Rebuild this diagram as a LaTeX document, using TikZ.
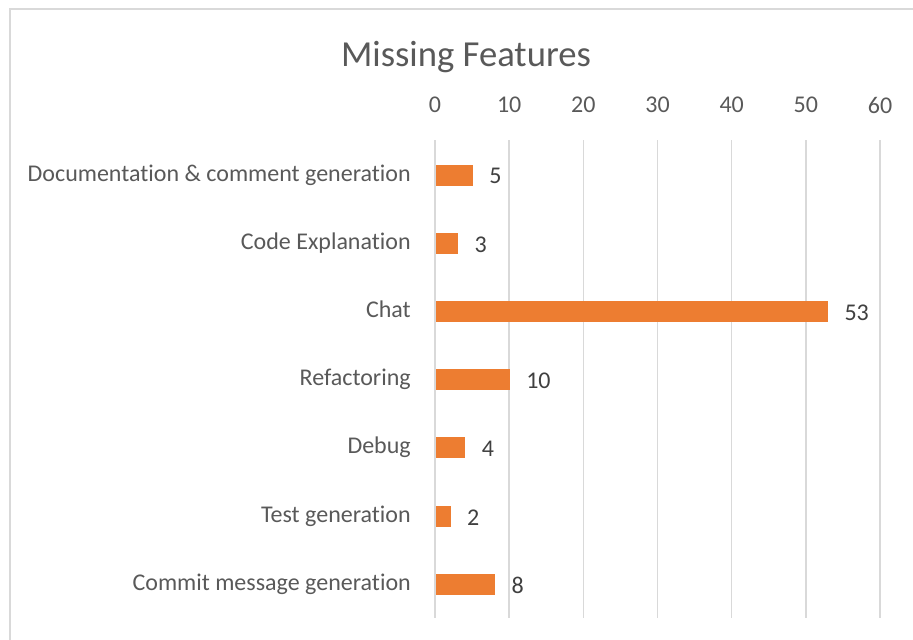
\documentclass[tikz,border=0pt]{standalone}
\usepackage{fontspec}
\setmainfont{Carlito}[Ligatures=NoCommon]
\usetikzlibrary{positioning}
\definecolor{barorange}{HTML}{ED7D31}
\definecolor{gridgrey}{HTML}{D9D9D9}
\definecolor{textgrey}{HTML}{595959}
\definecolor{valgrey}{HTML}{404040}
\tikzset{
  gridline/.style={draw=gridgrey, line width=1.1pt},
  featbar/.style={fill=barorange, draw=none, minimum height=15.75pt, inner sep=0pt, anchor=west},
  catlabel/.style={font=\fontsize{18}{20}\selectfont, text=textgrey, inner sep=0pt, anchor=mid east, yshift=-2.25pt},
  ticklabel/.style={font=\fontsize{18}{20}\selectfont, text=textgrey, inner sep=0pt},
  vallabel/.style={font=\fontsize{18}{20}\selectfont, text=valgrey, inner sep=0pt, yshift=-1pt},
  titlelabel/.style={font=\fontsize{27.5}{30}\selectfont, text=textgrey, inner sep=0pt, anchor=base}
}

\begin{document}
\begin{tikzpicture}[x=0.75pt, y=-0.75pt]
  \useasboundingbox (0,0) rectangle (913,639);
  % chart frame, cut off by the page on the right and at the bottom
  \draw[gridline] (10,660) -- (10,9) -- (930,9);
  \node[titlelabel] (title) at (466,66) {Missing Features};
  % vertical grid and axis numbers
  \foreach \k/\t in {0/0,1/10,2/20,3/30,4/40,5/50,6/60} {
    \draw[gridline] (435+74.17*\k,140) -- (435+74.17*\k,618);
    \node[ticklabel] (tick\k) at (435+74.17*\k,105) {\t};
  }
  % bars
  \foreach \i/\name/\v in {1/Documentation \& comment generation/5,
                           2/Code Explanation/3,
                           3/Chat/53,
                           4/Refactoring/10,
                           5/Debug/4,
                           6/Test generation/2,
                           7/Commit message generation/8} {
    \node[catlabel] (cat\i) at (411,{175+68.2*(\i-1)}) {\name};
    \node[featbar, minimum width=\v*5.55pt] (bar\i) at (435.5,{175+68.2*(\i-1)}) {};
    \node[vallabel, right=12pt of bar\i] (val\i) {\v};
  }
\end{tikzpicture}
\end{document}
